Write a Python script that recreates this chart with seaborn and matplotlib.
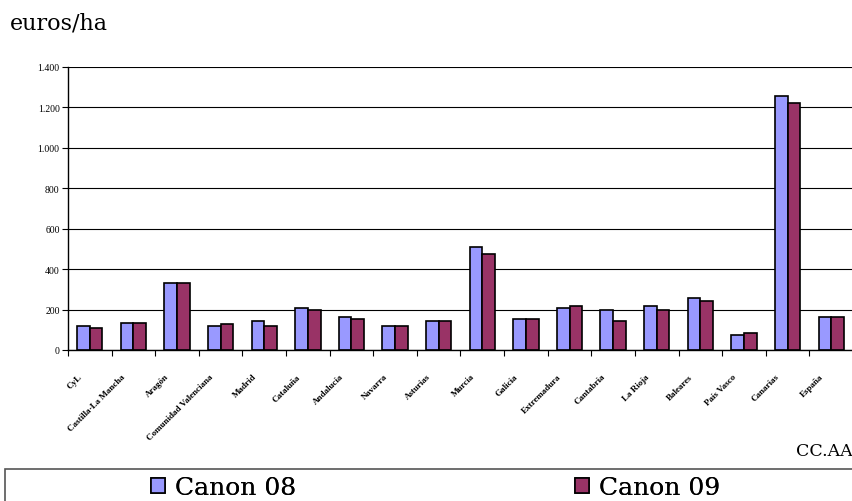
import matplotlib
matplotlib.use("Agg")
import matplotlib.pyplot as plt
import matplotlib.transforms as mtransforms
import seaborn as sns
import pandas as pd
from matplotlib.patches import Patch, Rectangle

regions = ["CyL", "Castilla-La Mancha", "Aragón", "Comunidad Valenciana", "Madrid",
           "Cataluña", "Andalucía", "Navarra", "Asturias", "Murcia", "Galicia",
           "Extremadura", "Cantabria", "La Rioja", "Baleares", "País Vasco",
           "Canarias", "España"]
canon08 = [120, 132, 331, 120, 145, 210, 165, 120, 145, 510, 155, 210, 200, 220, 255, 75, 1255, 165]
canon09 = [108, 132, 331, 130, 120, 200, 155, 120, 145, 475, 155, 220, 145, 200, 240, 85, 1220, 165]
series = ["Canon 08", "Canon 09"]
colors = ["#9999FF", "#993366"]
yticks = [0, 200, 400, 600, 800, 1000, 1200, 1400]
ytick_labels = ["0", "200", "400", "600", "800", "1.000", "1.200", "1.400"]

df = pd.DataFrame({
    "region": regions * 2,
    "serie": [series[0]] * len(regions) + [series[1]] * len(regions),
    "valor": canon08 + canon09,
})

sns.set_style("white")
plt.rcParams["font.family"] = ["Liberation Serif", "DejaVu Serif"]
plt.rcParams["text.color"] = "black"
plt.rcParams["xtick.color"] = "black"
plt.rcParams["ytick.color"] = "black"
plt.rcParams["axes.labelcolor"] = "black"

W, H = 853, 502
fig = plt.figure(figsize=(W / 100, H / 100), dpi=100)
ax = fig.add_axes([68 / W, 1 - 351 / H, (W - 68) / W, (351 - 68) / H])

sns.barplot(data=df, x="region", y="valor", hue="serie", palette=colors,
            saturation=1, width=0.58, gap=0, edgecolor="black", linewidth=1.2,
            legend=False, ax=ax, errorbar=None)

ax.set_ylim(0, 1400)
ax.set_xlim(-0.5, len(regions) - 0.5)
ax.set_yticks(yticks)
ax.set_yticklabels(ytick_labels, fontsize=7, color="black")
ax.yaxis.grid(True, color="black", linewidth=0.8)
ax.set_axisbelow(True)
ax.set_xlabel("")
ax.set_ylabel("")
for s in ["top", "right"]:
    ax.spines[s].set_visible(False)
for s in ["left", "bottom"]:
    ax.spines[s].set_color("black")
    ax.spines[s].set_linewidth(1.0)
ax.tick_params(axis="y", direction="out", length=4, width=0.8, color="black", pad=2, left=True)

ax.set_xticks(range(len(regions)))
ax.set_xticklabels(regions, rotation=45, ha="right", rotation_mode="anchor",
                   fontsize=6.5, fontweight="bold", color="black")
ax.tick_params(axis="x", which="major", length=0, pad=16)
offset = mtransforms.ScaledTranslation(-12 / 100, 0, fig.dpi_scale_trans)
for lbl in ax.get_xticklabels():
    lbl.set_transform(lbl.get_transform() + offset)
ax.set_xticks([i + 0.5 for i in range(-1, len(regions))], minor=True)
ax.tick_params(axis="x", which="minor", direction="out", length=4, width=0.8, color="black", bottom=True)

fig.text(10 / W, 1 - 24 / H, "euros/ha", fontsize=16, family="DejaVu Serif",
         ha="left", va="center", color="black")
fig.text(1.0, 1 - 452 / H, "CC.AA", fontsize=12.5, family="DejaVu Serif",
         ha="right", va="center", color="black")

fig.patches.append(Rectangle((5 / W, -0.02), 1, (H - 470) / H + 0.02,
                             transform=fig.transFigure, fill=False,
                             edgecolor="#555555", linewidth=1.2))

for name, col, x0 in zip(series, colors, [151, 575]):
    h = Patch(facecolor=col, edgecolor="black", linewidth=1.2)
    lg = fig.legend([h], [name], loc="center left",
                    bbox_to_anchor=(x0 / W, 1 - 489 / H),
                    prop={"family": "DejaVu Serif", "size": 18},
                    frameon=False, handlelength=0.56, handleheight=0.56,
                    handletextpad=0.4, borderpad=0, borderaxespad=0,
                    labelcolor="black")
    fig.add_artist(lg)

fig.savefig("out.png", dpi=100)
